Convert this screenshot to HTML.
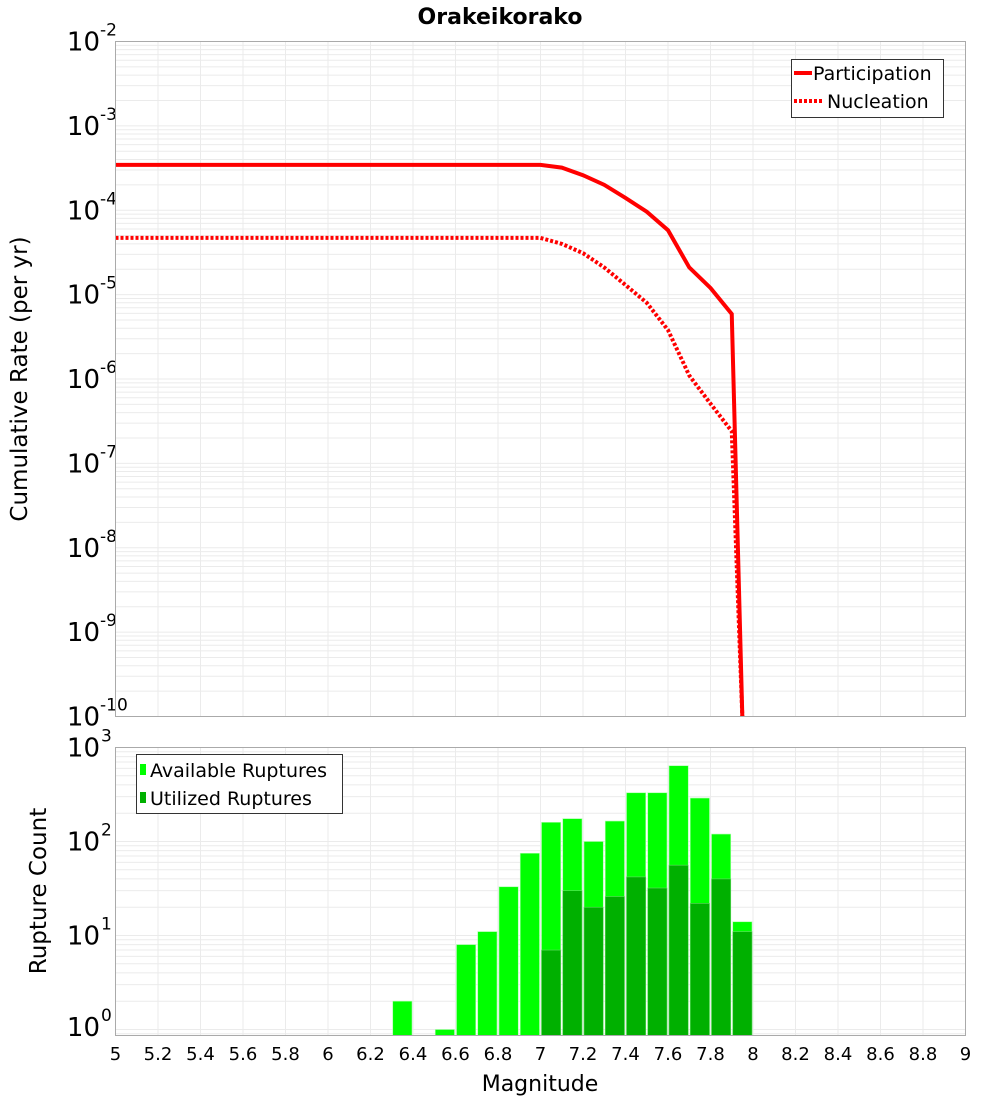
<!DOCTYPE html>
<html><head><meta charset="utf-8"><style>
body{margin:0;background:#fff;}
svg text{font-family:"DejaVu Sans","Liberation Sans",sans-serif;}
</style></head><body>
<svg id="chart" width="1000" height="1100" xmlns="http://www.w3.org/2000/svg">
<text x="500" y="24" text-anchor="middle" font-size="22" font-weight="bold">Orakeikorako</text>
<g id="topg"></g><g id="botg"></g>
<text transform="translate(27,379) rotate(-90)" text-anchor="middle" font-size="23">Cumulative Rate (per yr)</text>
<text transform="translate(46,891) rotate(-90)" text-anchor="middle" font-size="23">Rupture Count</text>
<text x="540" y="1091" text-anchor="middle" font-size="22">Magnitude</text>
</svg>
<script>
const mags=[5,5.1,5.2,5.3,5.4,5.5,5.6,5.7,5.8,5.9,6,6.1,6.2,6.3,6.4,6.5,6.6,6.7,6.8,6.9,7,7.1,7.2,7.3,7.4,7.5,7.6,7.7,7.8,7.9,7.95];
const participation=[3.45e-4,3.45e-4,3.45e-4,3.45e-4,3.45e-4,3.45e-4,3.45e-4,3.45e-4,3.45e-4,3.45e-4,3.45e-4,3.45e-4,3.45e-4,3.45e-4,3.45e-4,3.45e-4,3.45e-4,3.45e-4,3.45e-4,3.45e-4,3.45e-4,3.2e-4,2.6e-4,2.0e-4,1.4e-4,9.6e-5,5.8e-5,2.1e-5,1.2e-5,5.9e-6,1e-11];
const nucleation=[4.7e-5,4.7e-5,4.7e-5,4.7e-5,4.7e-5,4.7e-5,4.7e-5,4.7e-5,4.7e-5,4.7e-5,4.7e-5,4.7e-5,4.7e-5,4.7e-5,4.7e-5,4.7e-5,4.7e-5,4.7e-5,4.7e-5,4.7e-5,4.7e-5,4.0e-5,3.1e-5,2.1e-5,1.3e-5,8e-6,3.8e-6,1.1e-6,5.1e-7,2.4e-7,1e-11];
const binCenters=[6.35,6.55,6.65,6.75,6.85,6.95,7.05,7.15,7.25,7.35,7.45,7.55,7.65,7.75,7.85,7.95];
const available=[2,1,8,11,33,75,160,175,100,165,330,330,640,290,120,14];
const utilized=[0,0,0,0,0,0,7,30,20,26,42,32,56,22,40,11];
const xTicks=[5,5.2,5.4,5.6,5.8,6,6.2,6.4,6.6,6.8,7,7.2,7.4,7.6,7.8,8,8.2,8.4,8.6,8.8,9];
const topExps=[-2,-3,-4,-5,-6,-7,-8,-9,-10];
const botExps=[3,2,1,0];
const NS="http://www.w3.org/2000/svg";
const L=115.5,R=965.5;
const X=v=>L+(v-5)/4*(R-L);
const T0=41.5,T1=716.5;
const Yt=v=>T0+(-2-Math.log10(v))*(T1-T0)/8;
const B0=747.5,B1=1035.5;
const Yb=v=>B0+(3-Math.log10(v))*94;
function mk(p,tag,a){const e=document.createElementNS(NS,tag);for(const k in a)e.setAttribute(k,a[k]);p.appendChild(e);return e;}
const topG=document.getElementById('topg'),botG=document.getElementById('botg');
for(let e=-10;e<-2;e++)for(let m=1;m<10;m++){const y=Yt(m*Math.pow(10,e));if(y<T0||y>T1)continue;
 const g=mk(topG,'line',{x1:L,x2:R,y1:y,y2:y,stroke:'#ebebeb','stroke-width':1});
 
 }
for(const t of xTicks){
 const g=mk(topG,'line',{x1:X(t),x2:X(t),y1:T0,y2:T1,stroke:'#ebebeb','stroke-width':1});
 
 
 const g2=mk(botG,'line',{x1:X(t),x2:X(t),y1:B0,y2:B1,stroke:'#ebebeb','stroke-width':1});
 
 
 const tx=mk(botG,'text',{x:X(t),y:1060,'text-anchor':'middle','font-size':18});
 tx.textContent=String(t);
 
 }
for(let e=-1;e<3;e++)for(let m=1;m<10;m++){const y=Yb(m*Math.pow(10,e));if(y<B0||y>B1)continue;
 const g=mk(botG,'line',{x1:L,x2:R,y1:y,y2:y,stroke:'#ebebeb','stroke-width':1});
 
 }
for(const e of topExps){const y=Yt(Math.pow(10,e));
 const t=mk(topG,'text',{x:100,y:y+9,'text-anchor':'end','font-size':26});t.textContent='10';
 
 
 const s=mk(topG,'text',{x:100,y:y-6,'font-size':17});s.textContent=String(e);
 
 }
for(const e of botExps){const y=Math.min(Yb(Math.pow(10,e)),1027);
 const t=mk(botG,'text',{x:100,y:y+9,'text-anchor':'end','font-size':26});t.textContent='10';
 
 
 const s=mk(botG,'text',{x:101,y:y-6,'font-size':17});s.textContent=String(e);
 
 }
function pts(arr){return mags.map((m,i)=>X(m)+','+Math.min(Yt(arr[i]),T1+2)).join(' ');}
const cp=mk(topG,'clipPath',{id:'tc'});mk(cp,'rect',{x:L,y:T0,width:R-L,height:T1-T0});
const pl=mk(topG,'polyline',{points:pts(participation),fill:'none',stroke:'#ff0000','stroke-width':4,'clip-path':'url(#tc)'});


const nl=mk(topG,'polyline',{points:pts(nucleation),fill:'none',stroke:'#ff0000','stroke-width':4,'stroke-dasharray':'3,2','clip-path':'url(#tc)'});


const tb=mk(topG,'rect',{x:L,y:T0,width:R-L,height:T1-T0,fill:'none',stroke:'#aaa','stroke-width':1});


const bw=X(5.1)-X(5);
binCenters.forEach((c,i)=>{
 const a=mk(botG,'rect',{x:X(c)-bw/2+1,y:Yb(available[i]),width:bw-2,height:B1-Yb(available[i]),fill:'#00ff00',stroke:'#aaffaa','stroke-width':0.6});
 
 
 if(utilized[i]>0){
 const u=mk(botG,'rect',{x:X(c)-bw/2+1,y:Yb(utilized[i]),width:bw-2,height:B1-Yb(utilized[i]),fill:'#00b000',stroke:'#66dd66','stroke-width':0.6});
 
 }
});
const bb=mk(botG,'rect',{x:L,y:B0,width:R-L,height:B1-B0,fill:'none',stroke:'#aaa','stroke-width':1});


</script>
<svg style="position:absolute;left:0;top:0" width="1000" height="1100" xmlns="http://www.w3.org/2000/svg">
<g>
<rect x="791.5" y="59.5" width="152" height="58" fill="#fff" stroke="#333" stroke-width="1"/>
<line x1="794" x2="812" y1="73" y2="73" stroke="#f00" stroke-width="4"/>
<text x="813" y="80" font-size="19" font-family="DejaVu Sans, Liberation Sans, sans-serif">Participation</text>
<line x1="794" x2="822" y1="101" y2="101" stroke="#f00" stroke-width="4" stroke-dasharray="3,2"/>
<text x="827" y="108" font-size="19" font-family="DejaVu Sans, Liberation Sans, sans-serif">Nucleation</text>
</g>
<g>
<rect x="136.5" y="754.5" width="206" height="59" fill="#fff" stroke="#333" stroke-width="1"/>
<rect x="140" y="764" width="6" height="11" fill="#00ff00"/>
<text x="150" y="777" font-size="19" font-family="DejaVu Sans, Liberation Sans, sans-serif">Available Ruptures</text>
<rect x="140" y="792" width="6" height="11" fill="#00b000"/>
<text x="150" y="805" font-size="19" font-family="DejaVu Sans, Liberation Sans, sans-serif">Utilized Ruptures</text>
</g>
</svg>
</body></html>
